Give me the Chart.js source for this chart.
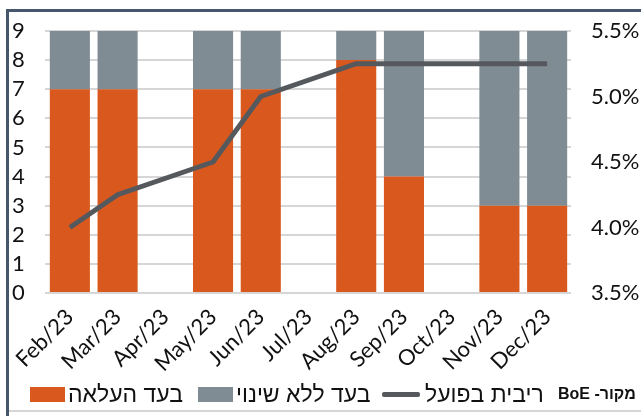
<!DOCTYPE html>
<html>
<head>
<meta charset="utf-8">
<script src="https://cdn.jsdelivr.net/npm/chart.js@4"></script>
<style>
  html, body { margin: 0; padding: 0; background: #fff; }
  #wrap { position: relative; width: 641px; height: 416px; overflow: hidden; }
  #c { position: absolute; left: 0; top: 0; }
  .leg { position: absolute; top: 380px; height: 28px; display: flex; align-items: center;
         font-family: "Liberation Sans", "DejaVu Sans", sans-serif; font-size: 23px; color: #111; white-space: nowrap; }
  .sw { display: inline-block; width: 35px; height: 15px; margin-right: 3px; }
  .ln { display: inline-block; width: 38px; height: 5px; margin-right: 5px; border-radius: 2px; }
  #src { position: absolute; top: 385px; left: 558px; direction: rtl; font-family: "Liberation Sans", "DejaVu Sans", sans-serif;
         font-weight: bold; font-size: 16px; color: #111; white-space: nowrap; }
</style>
</head>
<body>
<div id="wrap">
  <canvas id="c" width="641" height="416"></canvas>
  <div class="leg" style="left:30px"><span class="sw" style="background:#d9581e"></span><span dir="rtl">בעד העלאה</span></div>
  <div class="leg" style="left:198px"><span class="sw" style="background:#7f8c94"></span><span dir="rtl">בעד ללא שינוי</span></div>
  <div class="leg" style="left:382px"><span class="ln" style="background:#55595d"></span><span dir="rtl">ריבית בפועל</span></div>
  <div id="src">מקור- BoE</div>
</div>
<script>
const categories = ["Feb/23","Mar/23","Apr/23","May/23","Jun/23","Jul/23","Aug/23","Sep/23","Oct/23","Nov/23","Dec/23"];
const votesHike = [7, 7, null, 7, 7, null, 8, 4, null, 3, 3];
const votesHold = [2, 2, null, 2, 2, null, 1, 5, null, 6, 6];
const bankRate = [4.0, 4.25, null, 4.5, 5.0, null, 5.25, 5.25, null, 5.25, 5.25];
const leftAxis = { min: 0, max: 9, step: 1 };
const rightAxis = { min: 3.5, max: 5.5, step: 0.5 };

const numFont = { family: "Lato, 'Liberation Sans', sans-serif", size: 22 };

const framePlugin = {
  id: 'frame',
  beforeDraw(chart) {
    const ctx = chart.ctx;
    ctx.save();
    ctx.strokeStyle = '#46566b';
    ctx.lineWidth = 3;
    ctx.beginPath();
    ctx.moveTo(7.5, 416); ctx.lineTo(7.5, 10.5); ctx.lineTo(641, 10.5);
    ctx.stroke();
    ctx.strokeStyle = '#d6d6d6';
    ctx.lineWidth = 2;
    ctx.beginPath();
    ctx.moveTo(9, 411); ctx.lineTo(641, 411);
    ctx.stroke();
    ctx.restore();
  }
};

new Chart(document.getElementById('c'), {
  data: {
    labels: categories,
    datasets: [
      { type: 'line', label: 'ריבית בפועל', data: bankRate, yAxisID: 'yR', borderColor: '#55595d',
        borderWidth: 5, pointRadius: 0, spanGaps: true, order: 0 },
      { type: 'bar', label: 'בעד העלאה', data: votesHike, yAxisID: 'yL', backgroundColor: '#d9581e',
        stack: 's', barPercentage: 0.84, categoryPercentage: 1.0, order: 1 },
      { type: 'bar', label: 'בעד ללא שינוי', data: votesHold, yAxisID: 'yL', backgroundColor: '#7f8c94',
        stack: 's', barPercentage: 0.84, categoryPercentage: 1.0, order: 1 }
    ]
  },
  plugins: [framePlugin],
  options: {
    responsive: false,
    animation: false,
    layout: { padding: { top: 31, left: 12 } },
    plugins: { legend: { display: false }, tooltip: { enabled: false } },
    scales: {
      x: {
        stacked: true,
        grid: { display: false },
        border: { display: false },
        ticks: { font: { family: "Lato, 'Liberation Sans', sans-serif", size: 22 }, color: '#111',
                 minRotation: 45, maxRotation: 45, autoSkip: false },
        afterFit: s => { s.height = 123; }
      },
      yL: {
        position: 'left', stacked: true, min: leftAxis.min, max: leftAxis.max,
        grid: { color: '#d6d6d6', lineWidth: 2, tickLength: 1 },
        border: { display: false },
        ticks: { font: numFont, color: '#111', stepSize: leftAxis.step, crossAlign: 'far', autoSkip: false },
        afterFit: s => { s.width = 34; }
      },
      yR: {
        position: 'right', min: rightAxis.min, max: rightAxis.max,
        grid: { display: false },
        border: { display: false },
        ticks: { font: numFont, color: '#111', padding: 12, stepSize: rightAxis.step, autoSkip: false,
                 callback: v => v.toFixed(1) + '%' },
        afterFit: s => { s.width = 70; }
      }
    }
  }
});
</script>
</body>
</html>
